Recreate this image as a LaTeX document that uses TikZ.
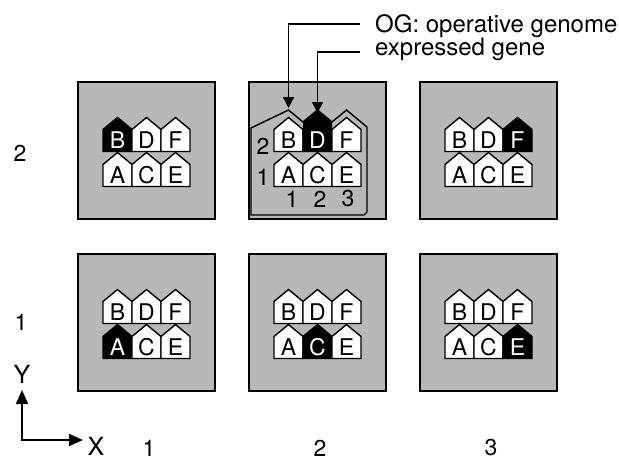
\documentclass[tikz,border=0pt]{standalone}
\usepackage{fontspec}
\setmainfont{TeX Gyre Heros}
\usetikzlibrary{arrows.meta}
\definecolor{panelgray}{RGB}{184,184,184}

\tikzset{
  panel/.style={draw=black,line width=1.7pt,fill=panelgray,minimum size=137pt,inner sep=0pt},
  houseline/.style={draw=black,line width=1.4pt,line join=miter},
  letter/.style={font=\fontsize{23}{23}\selectfont,inner sep=0pt},
  indexlabel/.style={font=\fontsize{23}{23}\selectfont,inner sep=0pt},
  axislabel/.style={font=\fontsize{25}{25}\selectfont,inner sep=0pt},
  caption/.style={font=\fontsize{24}{24}\selectfont,inner sep=0pt,anchor=base west},
  pointer/.style={line width=1.4pt,-{Triangle[width=11pt,length=11pt]}},
  axisline/.style={line width=1.7pt,{Triangle[width=12pt,length=14pt]}-{Triangle[width=12pt,length=14pt]}},
  ogline/.style={draw=black,line width=1.4pt,line join=miter},
  % one gene: letter, fill colour, letter colour
  pics/house/.style n args={3}{code={
    \path[houseline,fill=#2] (-14.5,0) -- (-14.5,-22) -- (0,-34) -- (14.5,-22) -- (14.5,0) -- cycle;
    \node[letter,text=#3] (-letter) at (0,-11) {#1};
  }}
}

\begin{document}
\begin{tikzpicture}[x=1pt,y=-1pt]
\useasboundingbox (0,0) rectangle (619,461);

% 3 x 2 grid of cells, each holding the six genes; the gene at the
% cell's own position is the expressed (black) one
\foreach \c in {1,2,3}{
  \foreach \r in {1,2}{
    \pgfmathsetmacro\cx{146.5+171*(\c-1)}
    \pgfmathsetmacro\cy{322.5-172*(\r-1)}
    \node[panel] (p\c\r) at (\cx,\cy) {};
    \foreach \hc/\hr/\g in {1/2/B,2/2/D,3/2/F,1/1/A,2/1/C,3/1/E}{
      \pgfmathsetmacro\hx{\cx+29*(\hc-2)}
      \pgfmathsetmacro\hy{\cy+1+35*(2-\hr)}
      \def\genefill{white}\def\genetext{black}
      \ifnum\hc=\c\relax\ifnum\hr=\r\relax\def\genefill{black}\def\genetext{white}\fi\fi
      \pic (h\c\r\g) at (\hx,\hy) {house={\g}{\genefill}{\genetext}};
    }
  }
}

% operative genome outline in cell (2,2)
\path[ogline] (251,128) -- (288.5,110) -- (303,122) -- (317.5,110) -- (332,122)
  -- (346.5,110) -- (367,127) -- (367,212) -- (364,215) -- (251,215) -- cycle;
\fill[black] (303,122) -- (317.5,110) -- (332,122) -- (332,130) -- (317.5,117.5) -- (303,130) -- cycle;
\node[indexlabel] (og2) at (263,146) {2};
\node[indexlabel] (og1) at (263,177) {1};
\node[indexlabel] (oc1) at (292,199) {1};
\node[indexlabel] (oc2) at (320,199) {2};
\node[indexlabel] (oc3) at (348,199) {3};

% legend with pointers
\node[caption] (og) at (375,32) {OG: operative genome};
\node[caption] (eg) at (375,55) {expressed gene};
\coordinate (ogend) at (360,24);
\coordinate (ogknee) at (288.5,24);
\coordinate (ogtip) at (288.5,108);
\coordinate (egend) at (360,52);
\coordinate (egknee) at (317.5,52);
\coordinate (egtip) at (317.5,113);
\draw[pointer] (ogend) -- (ogknee) -- (ogtip);
\draw[pointer] (egend) -- (egknee) -- (egtip);

% row and column indices
\node[indexlabel] (row2) at (20,153) {2};
\node[indexlabel] (row1) at (21,322) {1};
\node[indexlabel] (col1) at (149,448) {1};
\node[indexlabel] (col2) at (320,448) {2};
\node[indexlabel] (col3) at (491,448) {3};

% axes
\coordinate (yend) at (22,390);
\coordinate (origin) at (22,440);
\coordinate (xend) at (83,440);
\draw[axisline,line join=miter] (yend) -- (origin) -- (xend);
\node[axislabel] (ylab) at (22,374) {Y};
\node[axislabel] (xlab) at (96,446) {X};
\end{tikzpicture}
\end{document}
